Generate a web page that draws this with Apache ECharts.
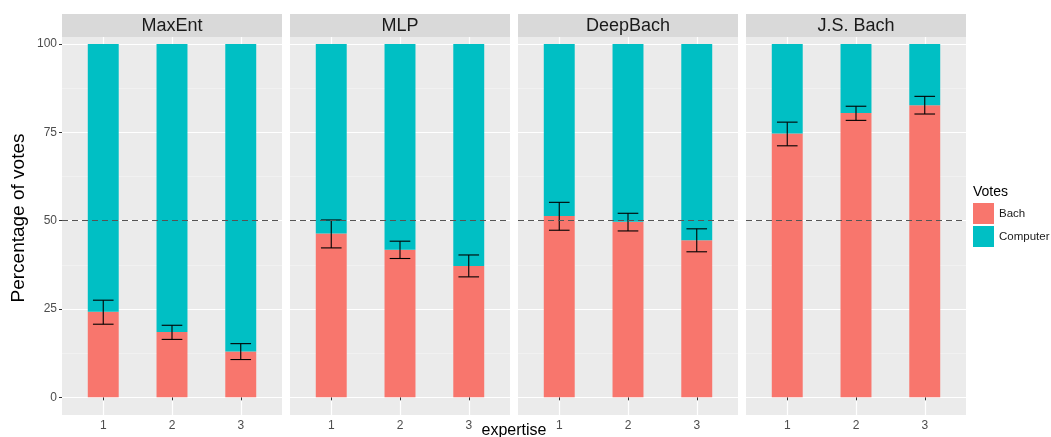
<!DOCTYPE html>
<html>
<head>
<meta charset="utf-8">
<script src="https://cdn.jsdelivr.net/npm/echarts@6/dist/echarts.min.js"></script>
<style>html,body{margin:0;padding:0;background:#fff}#c{width:1051px;height:437px}</style>
</head>
<body>
<div id="c"></div>
<script>
// ---- data ----
var panels = ['MaxEnt', 'MLP', 'DeepBach', 'J.S. Bach'];
var expertise = [1, 2, 3];
var bachPct = [[24.2, 18.5, 13.0], [46.4, 41.8, 37.2], [51.3, 49.7, 44.5], [74.7, 80.5, 82.7]];
var computerPct = [[75.8, 81.5, 87.0], [53.6, 58.2, 62.8], [48.7, 50.3, 55.5], [25.3, 19.5, 17.3]];
var errLow = [[20.7, 16.4, 10.7], [42.3, 39.3, 34.1], [47.3, 47.1, 41.2], [71.2, 78.4, 80.2]];
var errHigh = [[27.5, 20.4, 15.2], [50.2, 44.2, 40.3], [55.2, 52.1, 47.7], [77.9, 82.4, 85.2]];
var yTicks = [0, 25, 50, 75, 100];
var yMinor = [12.5, 37.5, 62.5, 87.5];
var refLine = 50;

// ---- layout ----
var P_LEFT = 62, P_W = 220, P_GAP = 8, P_TOP = 37, P_H = 378, STRIP_H = 23;
var BAR_W = 0.45;
var BACH = '#F8766D', COMP = '#00BFC4';

function stackedBar(params, api) {
  var x = api.value(0), base = api.value(1), val = api.value(2);
  var p0 = api.coord([x, base]);
  var p1 = api.coord([x, base + val]);
  var w = api.size([BAR_W, 0])[0];
  return {type: 'rect', shape: {x: p0[0] - w / 2, y: p1[1], width: w, height: p0[1] - p1[1]},
    style: {fill: api.visual('color')}};
}

var grids = [], xAxes = [], yAxes = [], series = [], graphics = [];
panels.forEach(function (name, i) {
  var left = P_LEFT + i * (P_W + P_GAP);
  grids.push({left: left, top: P_TOP, width: P_W, height: P_H, show: true,
    backgroundColor: '#EBEBEB', borderWidth: 0});
  xAxes.push({type: 'value', gridIndex: i, min: 0.4, max: 3.6,
    axisLine: {show: false}, splitLine: {show: false},
    axisTick: {show: true, customValues: expertise, length: 3, lineStyle: {color: '#333', width: 1}},
    axisLabel: {customValues: expertise, color: '#4D4D4D', fontSize: 12, margin: 5, fontFamily: 'Liberation Sans'}});
  yAxes.push({type: 'value', gridIndex: i, min: -5, max: 102,
    axisLine: {show: false}, splitLine: {show: false},
    axisTick: {show: i === 0, customValues: yTicks, length: 3, lineStyle: {color: '#333', width: 1}},
    axisLabel: {show: i === 0, customValues: yTicks, color: '#4D4D4D', fontSize: 12, margin: 5, fontFamily: 'Liberation Sans'}});

  // grid lines
  var ml = [];
  yTicks.forEach(function (v) { ml.push({yAxis: v, lineStyle: {color: '#fff', width: 1.2, type: 'solid'}}); });
  yMinor.forEach(function (v) { ml.push({yAxis: v, lineStyle: {color: '#F5F5F5', width: 0.6, type: 'solid'}}); });
  expertise.forEach(function (v) { ml.push({xAxis: v, lineStyle: {color: '#fff', width: 1.2, type: 'solid'}}); });
  series.push({type: 'line', xAxisIndex: i, yAxisIndex: i, data: [], z: 0, silent: true,
    markLine: {z: 0, silent: true, symbol: 'none', label: {show: false}, animation: false, data: ml}});

  series.push({name: 'Bach', type: 'custom', xAxisIndex: i, yAxisIndex: i, z: 2,
    itemStyle: {color: BACH}, renderItem: stackedBar,
    data: expertise.map(function (x, j) { return [x, 0, bachPct[i][j]]; })});
  series.push({name: 'Computer', type: 'custom', xAxisIndex: i, yAxisIndex: i, z: 2,
    itemStyle: {color: COMP}, renderItem: stackedBar,
    data: expertise.map(function (x, j) { return [x, bachPct[i][j], computerPct[i][j]]; })});

  series.push({type: 'custom', xAxisIndex: i, yAxisIndex: i, z: 5, silent: true,
    data: expertise.map(function (x, j) { return [x, errLow[i][j], errHigh[i][j]]; }),
    renderItem: function (params, api) {
      var lo = api.coord([api.value(0), api.value(1)]);
      var hi = api.coord([api.value(0), api.value(2)]);
      var hw = api.size([0.15, 0])[0];
      var st = {stroke: '#000', lineWidth: 1.1};
      return {type: 'group', children: [
        {type: 'line', shape: {x1: lo[0], y1: lo[1], x2: hi[0], y2: hi[1]}, style: st},
        {type: 'line', shape: {x1: lo[0] - hw, y1: lo[1], x2: lo[0] + hw, y2: lo[1]}, style: st},
        {type: 'line', shape: {x1: hi[0] - hw, y1: hi[1], x2: hi[0] + hw, y2: hi[1]}, style: st}
      ]};
    },
    markLine: {z: 6, silent: true, symbol: 'none', label: {show: false}, animation: false,
      lineStyle: {color: '#555', width: 1.1, type: [6, 4]}, data: [{yAxis: refLine}]}});

  graphics.push({type: 'rect', left: left, top: P_TOP - STRIP_H, shape: {width: P_W, height: STRIP_H},
    style: {fill: '#D9D9D9'}, z: 10});
  graphics.push({type: 'text', x: left + P_W / 2, y: P_TOP - STRIP_H / 2 + 1, z: 11,
    style: {text: name, fontSize: 18, fill: '#1A1A1A', align: 'center', verticalAlign: 'middle', fontFamily: 'Liberation Sans'}});
});

graphics.push({type: 'text', x: 514, y: 423, z: 11,
  style: {text: 'expertise', fontSize: 16, fill: '#000', align: 'center', verticalAlign: 'top', fontFamily: 'Liberation Sans'}});
graphics.push({type: 'text', x: 19, y: 218, rotation: Math.PI / 2, z: 11,
  style: {text: 'Percentage of votes', fontSize: 19, fill: '#000', align: 'center', verticalAlign: 'middle', fontFamily: 'Liberation Sans'}});
graphics.push({type: 'text', x: 973, y: 192, z: 11,
  style: {text: 'Votes', fontSize: 14, fill: '#000', align: 'left', verticalAlign: 'middle', fontFamily: 'Liberation Sans'}});

var chart = echarts.init(document.getElementById('c'), null, {renderer: 'canvas'});
chart.setOption({
  animation: false,
  grid: grids, xAxis: xAxes, yAxis: yAxes, series: series, graphic: graphics,
  legend: {data: ['Bach', 'Computer'], orient: 'vertical', left: 973, top: 203, padding: 0,
    itemWidth: 21, itemHeight: 21, itemGap: 2, icon: 'rect', selectedMode: false,
    textStyle: {fontSize: 11.5, color: '#1A1A1A', fontFamily: 'Liberation Sans'}}
});
</script>
</body>
</html>
